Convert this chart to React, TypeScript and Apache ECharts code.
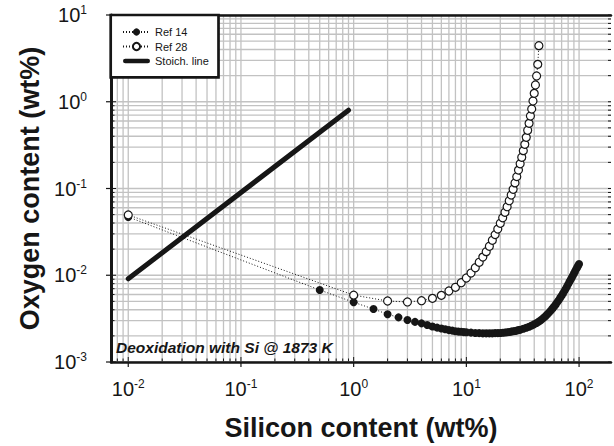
import React, { useEffect, useRef } from "react";
import * as echarts from "echarts";

const FONT = '"Liberation Sans", Arial, Helvetica, sans-serif';
const INK = "#161616";
const GRID_COLOR = "#c2c2c2";

// Ref 14 (filled circles): Si wt% vs O wt%
const ref14Si = [
  0.01, 0.5, 1, 1.5, 2, 2.5, 3, 3.5, 4, 4.5, 5, 5.5, 6, 6.5, 7, 7.5, 8, 8.5, 9, 9.5, 10,
  11, 12, 13, 14, 15, 16, 17, 18, 19, 20, 21, 22, 23, 24, 25, 26, 27, 28, 29, 30,
  32, 34, 36, 38, 40, 42, 44, 46, 48, 50, 52, 54, 56, 58, 60, 62, 64, 66, 68, 70,
  72, 74, 76, 78, 80, 82, 84, 86, 88, 90, 92, 94, 96, 98, 100,
];
const ref14O = [
  0.047, 0.00676, 0.00488, 0.00408, 0.00355, 0.00327, 0.00305, 0.0029, 0.00279, 0.00267,
  0.00257, 0.00249, 0.00243, 0.00238, 0.00233, 0.0023, 0.00226, 0.00224, 0.00223, 0.00221, 0.0022,
  0.00218, 0.00216, 0.00215, 0.00214, 0.00214, 0.00214, 0.00214, 0.00215, 0.00215, 0.00216,
  0.00217, 0.00219, 0.0022, 0.00222, 0.00224, 0.00226, 0.00228, 0.0023, 0.00233, 0.00235,
  0.00242, 0.00248, 0.00255, 0.00263, 0.00272, 0.00282, 0.00293, 0.00305, 0.0032, 0.00335,
  0.00352, 0.00371, 0.00391, 0.00413, 0.00437, 0.00461, 0.00488, 0.00515, 0.0055, 0.00582,
  0.00618, 0.00656, 0.00697, 0.0074, 0.00785, 0.00834, 0.00885, 0.00938, 0.00991, 0.01047,
  0.01107, 0.01169, 0.0123, 0.01288, 0.01349,
];

// Ref 28 (open circles)
const ref28Si = [
  0.01, 1, 2, 3, 4, 5, 6, 7, 8, 9, 10, 11, 12, 13, 14, 15, 16, 17, 18, 19, 20, 21, 22,
  23, 24, 25, 26, 27, 28, 29, 30, 31, 32, 33, 34, 35, 36, 37, 38, 39, 40, 41, 42, 43, 44,
];
const ref28O = [
  0.0496, 0.0059, 0.00505, 0.00492, 0.00509, 0.00542, 0.00587, 0.00658, 0.00726, 0.0082,
  0.0093, 0.0106, 0.0122, 0.0141, 0.0162, 0.0187, 0.0216, 0.0253, 0.0294, 0.0341, 0.0397,
  0.046, 0.0532, 0.0617, 0.0723, 0.0841, 0.098, 0.116, 0.137, 0.163, 0.193, 0.229, 0.273,
  0.323, 0.389, 0.469, 0.564, 0.685, 0.825, 1.02, 1.25, 1.56, 1.98, 2.7, 4.43,
];

// Stoichiometric line
const stoichSi = [0.01, 0.9];
const stoichO = [0.0091, 0.8];

// Axis ranges and tick labels (powers of ten)
const X_MIN = 0.00703;
const X_MAX = 192;
const Y_MIN = 0.001;
const Y_MAX = 10;
const xTickExponents = [-2, -1, 0, 1, 2];
const yTickExponents = [-3, -2, -1, 0, 1];
const GRID_MULTIPLIERS = [1, 2, 3, 4, 5, 6, 7, 8, 9];
const X_GRID_DECADES = [0.001, 0.01, 0.1, 1, 10, 100];
const Y_GRID_DECADES = [0.001, 0.01, 0.1, 1, 10];

const legendNames = ["Ref 14", "Ref 28", "Stoich. line"];
const annotation = "Deoxidation with Si @ 1873 K";

function pairs(xs: number[], ys: number[]) {
  return xs.map((x, i) => [x, ys[i]]);
}

function gridValues(decades: number[], min: number, max: number) {
  const out: number[][] = [];
  for (const d of decades) {
    for (const m of GRID_MULTIPLIERS) {
      const v = +(d * m).toPrecision(6);
      if (v >= min * 0.999 && v <= max * 1.001) out.push([v, m === 1 ? 1 : 0]);
    }
  }
  return out;
}

function supLabel(exps: number[]) {
  return (v: number) => {
    const l = Math.log10(v);
    const e = Math.round(l);
    if (Math.abs(l - e) > 1e-6 || exps.indexOf(e) < 0) return "";
    return `{b|10}{s|${e}}`;
  };
}

const rich = {
  b: { fontFamily: FONT, fontSize: 20, lineHeight: 22, color: INK, verticalAlign: "middle" },
  s: { fontFamily: FONT, fontSize: 12, lineHeight: 19, color: INK, verticalAlign: "top" },
};

export default function App() {
  const ref = useRef<HTMLDivElement>(null);

  useEffect(() => {
    if (!ref.current) return;
    const chart = echarts.init(ref.current, undefined, { renderer: "svg" });

    const xGrid = gridValues(X_GRID_DECADES, X_MIN, X_MAX).map((d) => [d[0], 1, d[1]]);
    const yGrid = gridValues(Y_GRID_DECADES, Y_MIN, Y_MAX).map((d) => [1, d[0], d[1]]);

    const renderGridX = (params: any, api: any) => {
      const cs = params.coordSys;
      const x = api.coord([api.value(0), 1])[0];
      const major = api.value(2) === 1;
      const top = cs.y;
      const bottom = cs.y + cs.height;
      const children: any[] = [
        { type: "line", shape: { x1: x, y1: top, x2: x, y2: bottom }, style: { stroke: GRID_COLOR, lineWidth: 1.3 } },
        { type: "line", shape: { x1: x, y1: bottom, x2: x, y2: bottom - (major ? 5 : 3.5) }, style: { stroke: INK, lineWidth: 1 } },
      ];
      if (major) {
        children.push({ type: "line", shape: { x1: x, y1: bottom, x2: x, y2: bottom + 5 }, style: { stroke: INK, lineWidth: 1.2 } });
      }
      return { type: "group", children };
    };

    const renderGridY = (params: any, api: any) => {
      const cs = params.coordSys;
      const y = api.coord([1, api.value(1)])[1];
      const major = api.value(2) === 1;
      const left = cs.x;
      const right = cs.x + cs.width;
      const children: any[] = [
        { type: "line", shape: { x1: left, y1: y, x2: right, y2: y }, style: { stroke: GRID_COLOR, lineWidth: 1.3 } },
        { type: "line", shape: { x1: left, y1: y, x2: left + (major ? 5 : 3.5), y2: y }, style: { stroke: INK, lineWidth: 1 } },
        { type: "line", shape: { x1: right, y1: y, x2: right - 3, y2: y }, style: { stroke: INK, lineWidth: 1 } },
      ];
      if (major) {
        children.push({ type: "line", shape: { x1: left, y1: y, x2: left - 5, y2: y }, style: { stroke: INK, lineWidth: 1.2 } });
      }
      return { type: "group", children };
    };

    const option: any = {
      animation: false,
      backgroundColor: "#fff",
      grid: { left: 111, top: 15, right: 1, bottom: 84, containLabel: false },
      xAxis: [
        {
          type: "log",
          logBase: 10,
          min: X_MIN,
          max: X_MAX,
          position: "bottom",
          z: 2,
          name: "Silicon content (wt%)",
          nameLocation: "middle",
          nameGap: 52,
          nameTextStyle: { fontFamily: FONT, fontSize: 27, fontWeight: "bold", color: INK },
          axisLine: { lineStyle: { color: INK, width: 2.5 } },
          axisTick: { show: false },
          splitLine: { show: false },
          minorTick: { show: false },
          minorSplitLine: { show: false },
          axisLabel: { formatter: supLabel(xTickExponents), rich, margin: 16, hideOverlap: false },
        },
        {
          type: "log",
          logBase: 10,
          min: X_MIN,
          max: X_MAX,
          position: "top",
          z: 2,
          axisLine: { lineStyle: { color: INK, width: 2.5 } },
          axisTick: { show: false },
          axisLabel: { show: false },
          splitLine: { show: false },
        },
      ],
      yAxis: [
        {
          type: "log",
          logBase: 10,
          min: Y_MIN,
          max: Y_MAX,
          position: "left",
          z: 2,
          name: "Oxygen content (wt%)",
          nameLocation: "middle",
          nameGap: 67,
          nameRotate: 90,
          nameTextStyle: { fontFamily: FONT, fontSize: 27, fontWeight: "bold", color: INK },
          axisLine: { lineStyle: { color: INK, width: 3 } },
          axisTick: { show: false },
          splitLine: { show: false },
          minorTick: { show: false },
          minorSplitLine: { show: false },
          axisLabel: { formatter: supLabel(yTickExponents), rich, margin: 24, hideOverlap: false },
        },
      ],
      legend: {
        left: 110.7,
        top: 15,
        orient: "vertical",
        itemWidth: 27,
        itemHeight: 9,
        itemGap: 3.5,
        padding: [11.5, 9.7, 10.8, 11.3],
        backgroundColor: "#fff",
        borderColor: INK,
        borderWidth: 2.7,
        selectedMode: false,
        z: 10,
        textStyle: { fontFamily: FONT, fontSize: 11, color: INK },
        data: [
          { name: legendNames[0] },
          { name: legendNames[1] },
          { name: legendNames[2], icon: "path://M2.5,0H27.5A2.5,2.5 0 0 1 27.5,5H2.5A2.5,2.5 0 0 1 2.5,0Z" },
        ],
      },
      graphic: [
        {
          type: "text",
          x: 116,
          y: 347.7,
          z: 10,
          silent: true,
          style: {
            text: annotation,
            fontFamily: FONT,
            fontSize: 15.5,
            fontWeight: "bold",
            fontStyle: "italic",
            fill: INK,
            align: "left",
            verticalAlign: "middle",
          },
        },
      ],
      series: [
        { type: "custom", name: "gridX", silent: true, z: 1, clip: false, renderItem: renderGridX, data: xGrid },
        { type: "custom", name: "gridY", silent: true, z: 1, clip: false, renderItem: renderGridY, data: yGrid },
        {
          type: "line",
          name: legendNames[2],
          data: pairs(stoichSi, stoichO),
          symbol: "none",
          color: INK,
          itemStyle: { color: INK },
          lineStyle: { color: INK, width: 5, cap: "round" },
          z: 3,
        },
        {
          type: "line",
          name: legendNames[0],
          data: pairs(ref14Si, ref14O),
          symbol: "circle",
          symbolSize: 8,
          color: INK,
          itemStyle: { color: INK },
          lineStyle: { color: INK, width: 1, type: [1, 2] },
          z: 4,
        },
        {
          type: "line",
          name: legendNames[1],
          data: pairs(ref28Si, ref28O),
          symbol: "circle",
          symbolSize: 8,
          itemStyle: { color: "#fff", borderColor: INK, borderWidth: 1.2 },
          lineStyle: { color: INK, width: 1, type: [1, 2] },
          z: 5,
        },
      ],
    };

    chart.setOption(option);
    return () => chart.dispose();
  }, []);

  return (
    <div
      ref={ref}
      style={{ position: "fixed", left: 0, top: 0, width: 614, height: 446, background: "#fff" }}
    />
  );
}
